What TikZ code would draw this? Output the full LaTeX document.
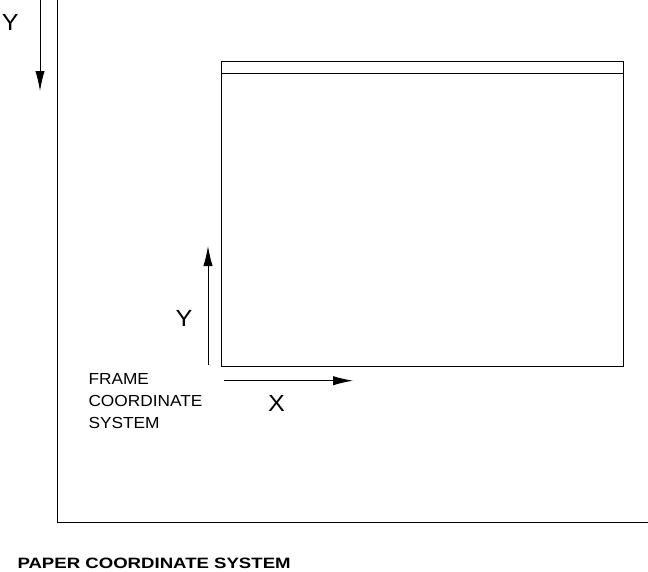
\documentclass[tikz,border=0pt]{standalone}
\usepackage{fontspec}
\newfontfamily\cadfont[FakeStretch=1.08]{Liberation Sans}
\newfontfamily\titlefont[FakeStretch=1.24]{Liberation Sans}
\usetikzlibrary{arrows.meta}

\tikzset{every picture/.style={line width=0.75pt}}
\tikzset{
  axisarrow/.style={-{Latex[length=15pt,width=7pt]}},
  biglabel/.style={anchor=base west,inner sep=0pt,font=\cadfont\fontsize{17.5}{20}\selectfont},
  smalllabel/.style={anchor=base west,inner sep=0pt,font=\cadfont\fontsize{12}{14}\selectfont},
}

\begin{document}
\begin{tikzpicture}[x=0.75pt,y=0.75pt,yscale=-1,xscale=1]
  \useasboundingbox (0,0) rectangle (648,571);

  %Paper axes
  \coordinate (papertop) at (57.7,0);
  \coordinate (paperorigin) at (57.7,522);
  \coordinate (paperright) at (648,522);
  \draw (papertop) -- (paperorigin) -- (paperright);

  %Paper Y arrow
  \coordinate (pyfrom) at (40,0);
  \coordinate (pyto) at (40,91);
  \draw [axisarrow] (pyfrom) -- (pyto);
  % Text Node
  \node [biglabel] (paperY) at (1.5,30.8) {Y};

  %Frame
  \draw (221.7,61.7) rectangle (623,366.7);
  \draw (221.7,73.3) -- (623,73.3);

  %Frame Y arrow
  \coordinate (fyfrom) at (208,365);
  \coordinate (fyto) at (208,246);
  \draw [axisarrow] (fyfrom) -- (fyto);
  %Frame X arrow
  \coordinate (fxfrom) at (224,380.7);
  \coordinate (fxto) at (353,380.7);
  \draw [axisarrow] (fxfrom) -- (fxto);

  % Text Node
  \node [biglabel] (frameY) at (175,326) {Y};
  % Text Node
  \node [biglabel] (frameX) at (267.5,411) {X};
  % Text Node
  \node [smalllabel] (frame1) at (88,384) {FRAME};
  \node [smalllabel] (frame2) at (88,406) {COORDINATE};
  \node [smalllabel] (frame3) at (88,428) {SYSTEM};
  % Text Node
  \node [anchor=base west,inner sep=0pt,font=\titlefont\bfseries\fontsize{11.25}{13}\selectfont] (papertitle) at (17,568) {PAPER COORDINATE SYSTEM};
\end{tikzpicture}
\end{document}
